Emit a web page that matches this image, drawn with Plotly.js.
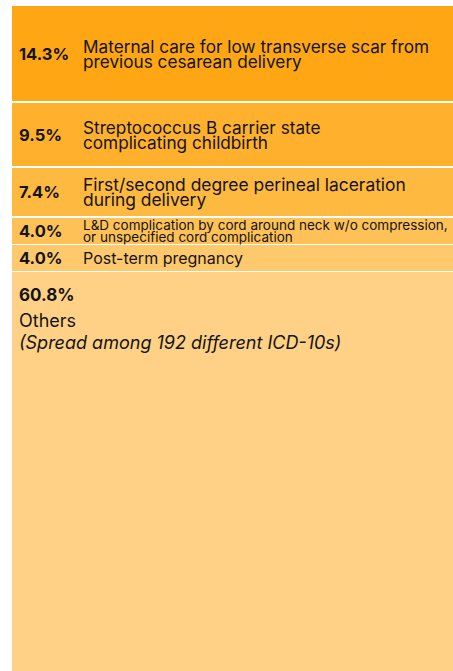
<!DOCTYPE html>
<html><head><meta charset="utf-8">
<script src="https://cdn.plot.ly/plotly-3.0.1.min.js"></script>
<style>html,body{margin:0;padding:0;overflow:hidden;background:#fff}</style>
</head><body><div id="chart" style="width:453px;height:671px"></div>
<script>
// ---- data ----
const shares = [14.3, 9.5, 7.4, 4.0, 4.0, 60.8];
const shareLabels = ['14.3%', '9.5%', '7.4%', '4.0%', '4.0%', '60.8%'];
const diagnoses = [
  'Maternal care for low transverse scar from<br>previous cesarean delivery',
  'Streptococcus B carrier state<br>complicating childbirth',
  'First/second degree perineal laceration<br>during delivery',
  'L&D complication by cord around neck w/o compression,<br>or unspecified cord complication',
  'Post-term pregnancy',
  'Others<br><i>(Spread among 192 different ICD-10s)</i>'
];

// ---- styles ----
const colors = ['#FFA614', '#FFB02C', '#FEB941', '#FEC157', '#FEC86C', '#FED186'];
const labelSizes = [17.2, 17.2, 17.4, 13.5, 16, 18];
const FONT = 'Inter, "Open Sans", sans-serif';
const TXT = '#141414';
const pxPerPct = 6.8, topPx = 5, H = 671, W = 453, L = 12;
const pctX = (19 - L) / (W - L), labX = (83 - L) / (W - L), XS = -2;

const traces = shares.map((v, i) => ({
  type: 'bar', x: ['all'], y: [v], name: shareLabels[i],
  marker: {color: colors[i], line: {color: '#ffffff', width: 1.5}},
  hoverinfo: 'skip', showlegend: false
}));

const ann = [];
let cum = 0;
shares.forEach((v, i) => {
  const lines = diagnoses[i].split('<br>');
  const isOthers = i === shares.length - 1;
  const size = labelSizes[i];
  if (!isOthers) {
    const yc = cum + v / 2;
    ann.push({xref: 'paper', yref: 'y', x: pctX, y: yc, xanchor: 'left', yanchor: 'middle',
      xshift: XS, text: '<b>' + shareLabels[i] + '</b>', showarrow: false,
      font: {family: FONT, size: 16.5, color: TXT}});
    const sp = size < 15 ? 12.5 : 15;
    lines.forEach((ln, j) => {
      ann.push({xref: 'paper', yref: 'y', x: labX, y: yc, xanchor: 'left', yanchor: 'middle',
        xshift: XS, yshift: ((lines.length - 1) / 2 - j) * sp,
        text: ln, showarrow: false, font: {family: FONT, size: size, color: TXT}});
    });
  } else {
    ann.push({xref: 'paper', yref: 'y', x: pctX, y: cum, xanchor: 'left', yanchor: 'middle',
      xshift: XS, yshift: -23.5, text: '<b>' + shareLabels[i] + '</b>', showarrow: false,
      font: {family: FONT, size: 17, color: TXT}});
    const shifts = [-49, -70.5];
    lines.forEach((ln, j) => {
      ann.push({xref: 'paper', yref: 'y', x: pctX, y: cum, xanchor: 'left', yanchor: 'middle',
        xshift: XS, yshift: shifts[j], text: ln, showarrow: false,
        font: {family: FONT, size: size, color: TXT}});
    });
  }
  cum += v;
});

const layout = {
  width: W, height: H,
  margin: {l: L, r: 0, t: topPx, b: 0, pad: 0},
  paper_bgcolor: '#ffffff', plot_bgcolor: '#ffffff',
  barmode: 'stack', bargap: 0,
  xaxis: {range: [-0.498, 0.498], visible: false, fixedrange: true},
  yaxis: {range: [(H - topPx) / pxPerPct, 0], visible: false, fixedrange: true},
  annotations: ann
};

Plotly.newPlot('chart', traces, layout, {staticPlot: true, displayModeBar: false});
</script>
</body></html>
